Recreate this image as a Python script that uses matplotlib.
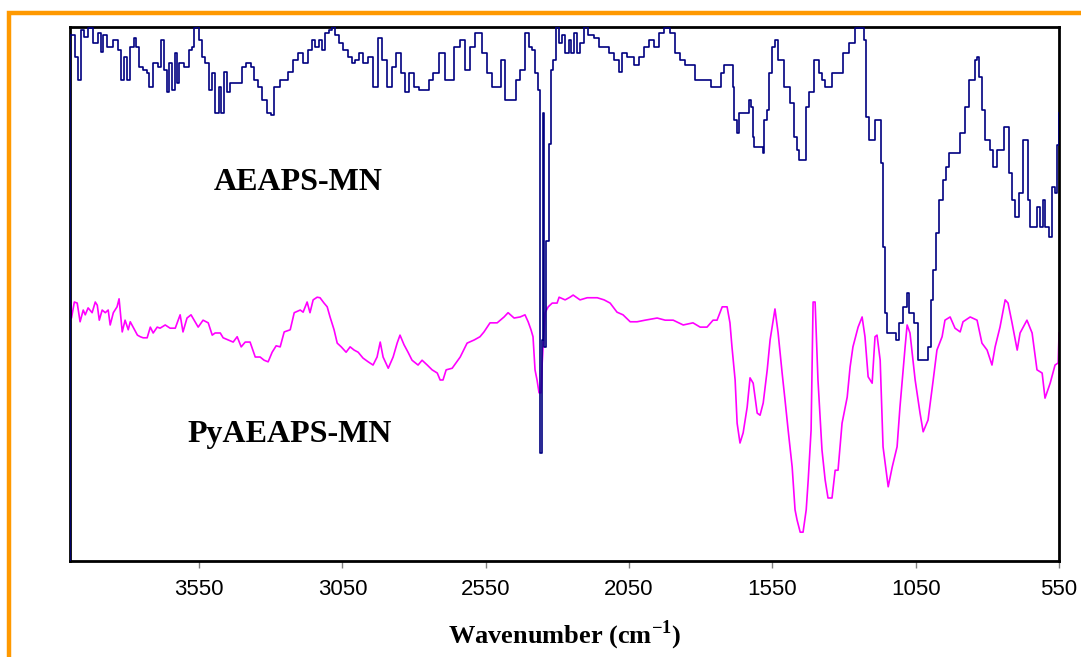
import numpy as np
import matplotlib
matplotlib.use("Agg")
import matplotlib.pyplot as plt
from matplotlib.patches import Rectangle

# Spectra (wavenumber in cm-1, transmittance in arbitrary %)
aeaps_wn = [4000, 4000, 3989, 3975, 3968, 3958, 3947, 3930, 3912, 3895, 3888, 3884, 3860, 3843,
            3825, 3818, 3808, 3797, 3783, 3773, 3765, 3755, 3738, 3727, 3720, 3703, 3686, 3679,
            3668, 3658, 3651, 3640, 3630, 3623, 3616, 3592, 3581, 3571, 3564, 3557, 3546, 3536,
            3522, 3511, 3501, 3487, 3476, 3469, 3459, 3448, 3435, 3407, 3396, 3379, 3361, 3354,
            3337, 3327, 3302, 3295, 3285, 3250, 3232, 3215, 3197, 3180, 3163, 3152, 3138, 3128,
            3117, 3103, 3093, 3082, 3068, 3058, 3040, 3023, 3013, 2999, 2988, 2971, 2953, 2936,
            2918, 2908, 2883, 2873, 2856, 2838, 2824, 2814, 2789, 2779, 2754, 2744, 2726, 2699,
            2685, 2674, 2650, 2632, 2615, 2597, 2580, 2570, 2559, 2535, 2524, 2500, 2493, 2475,
            2448, 2441, 2420, 2406, 2395, 2385, 2371, 2367, 2357, 2353, 2350, 2346, 2336, 2325,
            2318, 2311, 2301, 2291, 2280, 2266, 2256, 2249, 2238, 2228, 2214, 2203, 2186, 2161,
            2151, 2127, 2116, 2092, 2081, 2071, 2046, 2022, 2011, 1987, 1977, 1952, 1942, 1917,
            1900, 1882, 1861, 1848, 1827, 1813, 1767, 1760, 1732, 1725, 1715, 1691, 1687, 1680,
            1670, 1663, 1638, 1628, 1621, 1617, 1610, 1586, 1582, 1575, 1565, 1558, 1548, 1534,
            1530, 1516, 1506, 1495, 1481, 1471, 1460, 1453, 1436, 1429, 1419, 1408, 1401, 1391,
            1384, 1373, 1359, 1349, 1338, 1307, 1303, 1289, 1279, 1269, 1255, 1234, 1227, 1220,
            1209, 1199, 1185, 1174, 1167, 1164, 1153, 1150, 1122, 1115, 1105, 1087, 1077, 1070,
            1045, 1042, 1010, 1003, 993, 986, 975, 965, 948, 941, 930, 906, 885, 871, 860, 850,
            836, 833, 826, 815, 801, 784, 780, 773, 763, 749, 738, 728, 721, 710, 696, 686, 669,
            662, 658, 644, 634, 623, 609, 606, 592, 581, 571, 560, 553, 550]
aeaps_t = [0.0, 98.5, 98.5, 94.4, 90.1, 99.5, 98.1, 99.8, 97.0, 98.9, 95.3, 98.5, 96.3, 97.6,
           95.7, 90.1, 94.4, 90.1, 96.3, 98.0, 96.3, 92.5, 92.0, 91.4, 88.8, 93.3, 92.5, 97.6,
           92.0, 87.8, 93.3, 88.2, 95.1, 89.5, 93.3, 92.5, 95.7, 96.3, 99.8, 100.0, 97.6, 94.4,
           93.3, 88.2, 91.4, 83.9, 88.8, 83.9, 91.6, 87.8, 89.5, 89.5, 92.5, 93.3, 92.5, 90.1,
           88.8, 86.3, 83.9, 83.5, 88.8, 90.1, 91.6, 93.8, 95.1, 93.3, 95.7, 97.6, 96.3, 97.6,
           95.7, 98.9, 99.5, 100.0, 98.5, 97.0, 95.7, 94.4, 93.3, 93.8, 95.1, 93.3, 94.4, 88.8,
           98.0, 93.8, 88.8, 92.5, 95.1, 91.4, 87.8, 91.4, 88.8, 88.2, 88.2, 90.1, 91.4, 95.1,
           90.1, 90.1, 96.3, 97.6, 92.0, 96.3, 98.9, 98.9, 95.1, 91.4, 88.8, 88.8, 93.8, 86.3,
           86.3, 90.1, 92.0, 98.9, 96.3, 95.7, 91.4, 88.2, 20.2, 41.4, 83.9, 40.0, 60.0, 78.0,
           92.0, 93.8, 100.0, 97.0, 98.5, 95.1, 97.6, 95.1, 98.9, 95.1, 97.0, 100.0, 98.5, 98.0,
           96.3, 96.3, 95.1, 93.8, 91.6, 95.1, 94.4, 92.9, 94.4, 96.3, 97.6, 96.3, 98.9, 99.8,
           98.9, 95.1, 93.8, 92.9, 92.9, 90.1, 90.1, 88.8, 88.8, 91.4, 92.9, 92.9, 88.8, 82.6,
           80.2, 83.9, 83.9, 86.3, 85.0, 79.4, 77.5, 77.5, 76.4, 82.6, 84.5, 91.4, 96.3, 97.6,
           93.8, 93.8, 88.8, 88.8, 85.8, 79.4, 77.0, 75.1, 75.1, 85.0, 87.8, 87.8, 93.8, 93.8,
           91.4, 90.1, 88.8, 88.8, 91.4, 91.4, 95.1, 95.1, 97.0, 97.0, 99.8, 99.8, 97.6, 83.2,
           78.9, 78.9, 82.6, 82.6, 74.5, 58.8, 46.5, 42.7, 42.7, 41.4, 44.6, 47.6, 50.2, 46.5,
           44.6, 37.6, 37.6, 40.1, 48.9, 54.5, 61.4, 67.6, 71.4, 73.8, 76.4, 76.4, 80.2, 85.0,
           90.1, 90.1, 93.8, 94.4, 90.7, 84.5, 78.9, 77.0, 73.8, 73.8, 77.0, 77.0, 81.3, 81.3,
           72.7, 67.6, 64.4, 68.9, 78.9, 78.9, 67.6, 62.6, 62.6, 66.3, 62.6, 67.6, 62.6, 60.7,
           70.1, 68.9, 77.9, 83.9]

py_wn = [4000, 4000, 3995, 3985, 3975, 3965, 3954, 3947, 3937, 3923, 3912, 3905, 3898, 3888,
         3877, 3867, 3860, 3849, 3836, 3829, 3818, 3808, 3797, 3790, 3780, 3765, 3755, 3745,
         3731, 3720, 3710, 3696, 3686, 3668, 3651, 3633, 3616, 3606, 3592, 3578, 3564, 3553,
         3536, 3518, 3504, 3494, 3476, 3466, 3448, 3431, 3417, 3403, 3389, 3372, 3354, 3337,
         3323, 3309, 3295, 3281, 3267, 3253, 3232, 3218, 3197, 3187, 3173, 3163, 3152, 3138,
         3128, 3114, 3103, 3093, 3079, 3068, 3054, 3037, 3023, 3009, 2995, 2978, 2960, 2943,
         2929, 2918, 2908, 2890, 2873, 2859, 2849, 2835, 2821, 2807, 2786, 2772, 2754, 2737,
         2719, 2709, 2699, 2688, 2667, 2639, 2615, 2590, 2570, 2556, 2535, 2510, 2486, 2472,
         2451, 2430, 2413, 2402, 2392, 2385, 2378, 2371, 2364, 2357, 2353, 2343, 2332, 2318,
         2301, 2294, 2273, 2256, 2245, 2221, 2196, 2161, 2137, 2116, 2092, 2071, 2046, 2022,
         1994, 1952, 1924, 1896, 1861, 1827, 1802, 1778, 1757, 1743, 1725, 1708, 1698, 1691,
         1680, 1673, 1663, 1652, 1638, 1628, 1617, 1603, 1593, 1582, 1568, 1558, 1541, 1530,
         1516, 1506, 1495, 1481, 1471, 1464, 1453, 1443, 1432, 1425, 1415, 1408, 1401, 1391,
         1377, 1366, 1356, 1342, 1331, 1321, 1307, 1289, 1279, 1269, 1251, 1237, 1227, 1216,
         1202, 1192, 1185, 1174, 1164, 1146, 1132, 1115, 1105, 1087, 1080, 1070, 1052, 1035,
         1024, 1007, 989, 976, 958, 948, 930, 913, 895, 885, 860, 836, 819, 801, 784, 773,
         756, 738, 728, 714, 696, 686, 662, 644, 627, 609, 599, 581, 564, 553, 550]
py_t = [0.0, 48.5, 45.5, 48.5, 48.3, 44.8, 47.0, 46.1, 47.4, 46.5, 48.5, 47.9, 45.1, 47.0,
        46.5, 47.0, 44.2, 46.5, 47.6, 49.1, 42.9, 45.1, 43.3, 44.8, 43.8, 42.3, 42.0, 41.8,
        41.8, 43.8, 42.7, 43.8, 43.6, 44.2, 43.6, 43.6, 46.1, 42.9, 45.5, 46.1, 44.8, 43.8,
        45.1, 44.6, 42.3, 42.7, 42.7, 41.8, 41.4, 41.0, 42.0, 40.1, 41.0, 41.0, 38.2, 38.2,
        37.6, 37.3, 39.1, 40.3, 40.1, 42.9, 43.3, 46.5, 47.0, 46.6, 48.5, 46.5, 48.9, 49.4,
        49.3, 48.3, 47.6, 45.7, 43.3, 40.8, 40.1, 39.1, 40.1, 39.5, 39.1, 38.0, 37.3, 36.7,
        38.2, 41.0, 38.2, 36.1, 38.2, 40.8, 42.3, 40.5, 39.1, 37.6, 36.7, 37.6, 36.7, 35.8,
        35.2, 33.9, 33.9, 35.8, 36.1, 38.2, 40.8, 41.4, 42.0, 42.9, 44.6, 44.6, 45.7, 46.5,
        45.5, 45.7, 46.1, 44.8, 43.3, 42.0, 35.8, 33.9, 31.5, 31.5, 37.1, 46.5, 47.6, 48.3,
        48.3, 49.4, 48.9, 49.4, 49.8, 48.9, 49.3, 49.3, 48.9, 48.3, 46.6, 46.1, 44.8, 44.8,
        45.1, 45.5, 45.1, 45.1, 44.2, 44.6, 43.8, 43.8, 45.1, 45.1, 47.6, 47.6, 44.6, 40.1,
        33.9, 25.8, 22.1, 24.0, 28.8, 34.3, 33.3, 27.7, 27.3, 29.6, 35.8, 41.4, 47.2, 42.7,
        35.2, 30.2, 24.5, 17.6, 9.6, 7.7, 5.4, 5.4, 9.6, 15.2, 24.5, 48.5, 48.5, 33.9,
        20.8, 15.2, 11.8, 11.8, 17.0, 17.0, 25.8, 30.7, 36.3, 40.1, 43.8, 45.7, 42.0, 34.5,
        33.3, 42.0, 42.3, 37.6, 21.4, 13.9, 17.6, 21.4, 28.8, 40.1, 44.2, 42.7, 33.9, 27.7,
        24.2, 26.4, 33.9, 39.5, 42.0, 45.1, 45.7, 43.6, 42.9, 44.8, 45.7, 45.1, 40.8, 39.5,
        36.7, 40.1, 43.8, 48.9, 48.3, 44.6, 39.5, 42.7, 45.1, 42.7, 35.8, 35.2, 30.5, 33.3,
        36.7, 37.1, 42.7]

tick_values = [3550, 3050, 2550, 2050, 1550, 1050, 550]
series_names = ["AEAPS-MN", "PyAEAPS-MN"]

fig = plt.figure(figsize=(10.81, 6.57), dpi=100)
ax = fig.add_axes([0.0648, 0.1461, 0.9149, 0.8128])

ax.plot(aeaps_wn, aeaps_t, color="#000080", linewidth=1.2, drawstyle="steps-mid", zorder=3)
ax.plot(py_wn, py_t, color="#FF00FF", linewidth=1.2, zorder=2)

ax.set_xlim(4000, 550)
ax.set_ylim(0, 100)
ax.set_yticks([])
ax.set_xticks(tick_values)
ax.set_xticklabels([str(v) for v in tick_values], fontfamily="Liberation Sans", fontsize=16)
ax.tick_params(axis="x", direction="out", length=5, width=1, color="#808080", pad=8)

for side in ["top", "right", "bottom", "left"]:
    ax.spines[side].set_linewidth(2.0)
    ax.spines[side].set_color("black")

ax.text(0.2305, 0.708, series_names[0], transform=ax.transAxes, ha="center", va="center",
        fontfamily="Liberation Serif", fontweight="bold", fontsize=23)
ax.text(0.2224, 0.236, series_names[1], transform=ax.transAxes, ha="center", va="center",
        fontfamily="Liberation Serif", fontweight="bold", fontsize=23)

plt.rcParams["mathtext.fontset"] = "custom"
plt.rcParams["mathtext.rm"] = "Liberation Serif:bold"
plt.rcParams["mathtext.bf"] = "Liberation Serif:bold"
fig.text(565 / 1081, 1 - 635 / 657, "Wavenumber (cm$^{\\mathrm{-1}}$)", ha="center", va="center",
         fontfamily="Liberation Serif", fontweight="bold", fontsize=19)

# orange frame, only the top and left edges fall inside the picture
fig.patches.append(Rectangle((9 / 1081, -0.2), 1.5, 1 - 13 / 657 + 0.2, transform=fig.transFigure,
                             fill=False, edgecolor="#FF9900", linewidth=3.2, zorder=0))

fig.savefig("out.png", dpi=100)
